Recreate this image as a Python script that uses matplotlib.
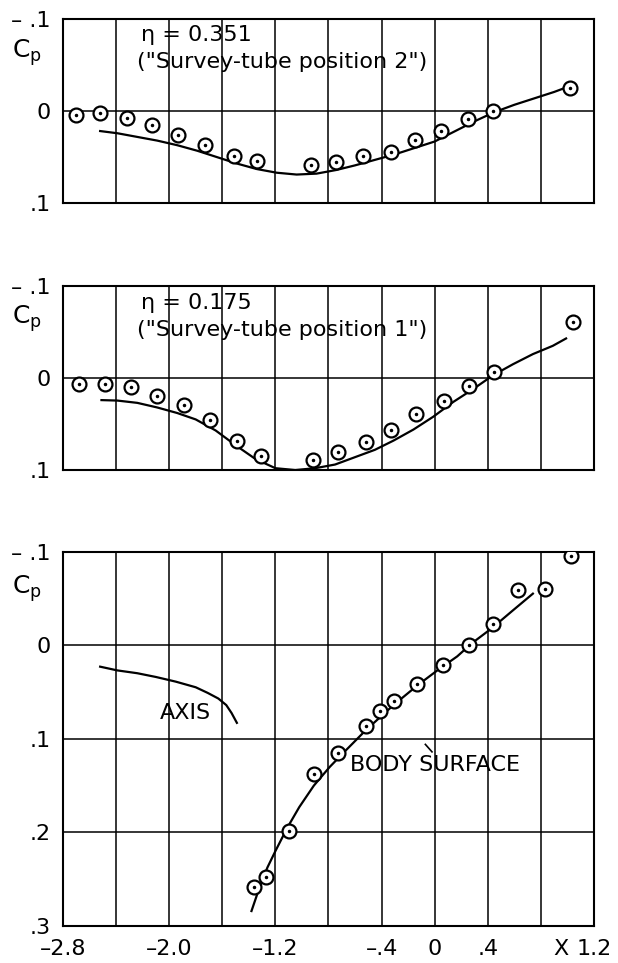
import numpy as np
import matplotlib
matplotlib.use("Agg")
import matplotlib.pyplot as plt

plt.rcParams['font.family'] = ['DejaVu Sans']
plt.rcParams['font.size'] = 16

# grid columns and tick labels (x)
x_grid = np.arange(-2.8, 1.21, 0.4)
x_labels = ['\u20132.8', '', '\u20132.0', '', '\u20131.2', '', '\u2013.4', '0', '.4', '', '1.2']

# panel 1: eta = 0.351
p1_x = [-2.70, -2.52, -2.32, -2.13, -1.93, -1.73, -1.51, -1.34, -0.93, -0.74,
        -0.54, -0.33, -0.15, 0.05, 0.25, 0.44, 1.02]
p1_cp = [0.0045, 0.002, 0.0075, 0.015, 0.026, 0.037, 0.049, 0.054, 0.059, 0.055,
         0.049, 0.044, 0.031, 0.022, 0.008, 0.0, -0.025]
p1_line_x = [-2.52, -2.39, -2.24, -2.09, -1.94, -1.79, -1.64, -1.49, -1.34, -1.19,
             -1.04, -0.89, -0.74, -0.60, -0.45, -0.30, -0.15, 0.00, 0.15, 0.30,
             0.45, 0.60, 0.75, 0.90, 1.03]
p1_line_cp = [0.0216, 0.024, 0.028, 0.032, 0.037, 0.043, 0.050, 0.057, 0.063, 0.067,
              0.069, 0.068, 0.064, 0.059, 0.053, 0.047, 0.040, 0.033, 0.022, 0.011,
              0.001, -0.007, -0.014, -0.021, -0.028]

# panel 2: eta = 0.175
p2_x = [-2.68, -2.48, -2.29, -2.09, -1.89, -1.69, -1.49, -1.31, -0.92, -0.73,
        -0.52, -0.33, -0.14, 0.07, 0.26, 0.45, 1.04]
p2_cp = [0.007, 0.0065, 0.010, 0.020, 0.029, 0.046, 0.068, 0.085, 0.089, 0.080,
         0.069, 0.056, 0.039, 0.025, 0.009, -0.007, -0.061]
p2_line_x = [-2.51, -2.39, -2.24, -2.09, -1.94, -1.80, -1.65, -1.50, -1.35, -1.20,
             -1.05, -0.90, -0.75, -0.60, -0.45, -0.31, -0.16, -0.01, 0.14, 0.29,
             0.44, 0.59, 0.74, 0.89, 0.99]
p2_line_cp = [0.024, 0.0245, 0.027, 0.032, 0.038, 0.045, 0.057, 0.073, 0.088, 0.098,
              0.100, 0.098, 0.094, 0.086, 0.078, 0.068, 0.056, 0.042, 0.026, 0.012,
              -0.003, -0.015, -0.026, -0.035, -0.043]

# panel 3: axis and body surface
p3_x = [-1.36, -1.27, -1.10, -0.91, -0.73, -0.52, -0.41, -0.31, -0.13, 0.06,
        0.26, 0.44, 0.63, 0.83, 1.03]
p3_cp = [0.258, 0.248, 0.198, 0.138, 0.115, 0.086, 0.070, 0.060, 0.041, 0.021,
         0.0, -0.023, -0.059, -0.060, -0.095]
body_x = [-1.38, -1.32, -1.26, -1.20, -1.11, -1.02, -0.91, -0.79, -0.67, -0.52,
          -0.31, -0.13, 0.02, 0.17, 0.28, 0.43, 0.58, 0.74]
body_cp = [0.284, 0.259, 0.2375, 0.220, 0.195, 0.173, 0.150, 0.130, 0.1125, 0.091,
           0.064, 0.043, 0.027, 0.012, -0.002, -0.018, -0.036, -0.055]
axis_x = [-2.52, -2.39, -2.24, -2.10, -1.95, -1.80, -1.71, -1.63, -1.57, -1.53, -1.49]
axis_cp = [0.023, 0.027, 0.030, 0.034, 0.039, 0.045, 0.051, 0.057, 0.064, 0.0725, 0.083]

fig = plt.figure(figsize=(6.18, 9.63), dpi=100)


def setup(ax, yticks, ylabels, show_x, cp_y):
    ax.set_xlim(-2.8, 1.2)
    ax.set_ylim(yticks[-1], yticks[0])
    ax.set_xticks(x_grid)
    ax.set_xticklabels(x_labels if show_x else [])
    ax.set_yticks(yticks)
    ax.set_yticklabels(ylabels)
    ax.tick_params(length=0, pad=9)
    ax.grid(True, color='black', lw=1.1)
    for s in ax.spines.values():
        s.set_linewidth(1.5)
    ax.text(-3.07, cp_y, r'$\mathregular{C_p}$', ha='center', va='center',
            fontsize=18, clip_on=False)


def points(ax, x, y):
    ax.plot(x, y, 'o', ms=10, mfc='white', mec='black', mew=1.6, zorder=4)
    ax.plot(x, y, '.', ms=3, color='black', zorder=5)


ax1 = fig.add_axes([0.1019, 0.7892, 0.8592, 0.1906])
setup(ax1, [-0.1, 0, 0.1], ['\u2013 .1', '0', '.1'], False, -0.064)
ax1.plot(p1_line_x, p1_line_cp, color='black', lw=1.6)
points(ax1, p1_x, p1_cp)
ax1.text(-2.21, -0.083, '\u03b7 = 0.351', va='center')
ax1.text(-2.24, -0.054, '("Survey-tube position 2")', va='center')

ax2 = fig.add_axes([0.1019, 0.5119, 0.8592, 0.1911])
setup(ax2, [-0.1, 0, 0.1], ['\u2013 .1', '0', '.1'], False, -0.064)
ax2.plot(p2_line_x, p2_line_cp, color='black', lw=1.6)
points(ax2, p2_x, p2_cp)
ax2.text(-2.21, -0.081, '\u03b7 = 0.175', va='center')
ax2.text(-2.24, -0.052, '("Survey-tube position 1")', va='center')

ax3 = fig.add_axes([0.1019, 0.0384, 0.8592, 0.3889])
setup(ax3, [-0.1, 0, 0.1, 0.2, 0.3], ['\u2013 .1', '0', '.1', '.2', '.3'], True, -0.06)
ax3.plot(body_x, body_cp, color='black', lw=1.6)
ax3.plot(axis_x, axis_cp, color='black', lw=1.6)
points(ax3, p3_x, p3_cp)
ax3.text(-2.07, 0.0725, 'AXIS', va='center')
ax3.text(-0.64, 0.128, 'BODY SURFACE', va='center')
ax3.plot([-0.07, -0.02], [0.106, 0.114], color='black', lw=1.2)
ax3.annotate('X', xy=(0.95, 0.3), xytext=(0, -9), textcoords='offset points',
             ha='center', va='top', annotation_clip=False)

fig.savefig('out.png', dpi=100, facecolor='white')
